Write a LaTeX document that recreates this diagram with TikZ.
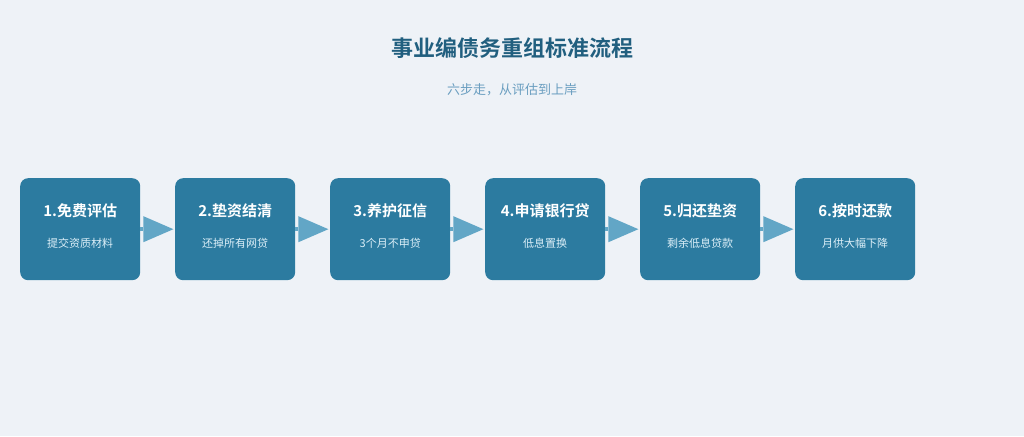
\documentclass[tikz,border=0pt]{standalone}
\usepackage{fontspec}
\setmainfont{Noto Sans CJK SC}
\newfontfamily\cjkbold{Noto Sans CJK SC Bold}
\usetikzlibrary{calc}
\definecolor{bg}{HTML}{EEF2F7}
\definecolor{boxc}{HTML}{2C7BA0}
\definecolor{arrc}{HTML}{62A6C6}
\definecolor{titlec}{HTML}{215F7F}
\definecolor{subc}{HTML}{6A9EC0}
\definecolor{stepsub}{HTML}{DCEFF8}
\tikzset{
  stepbox/.style={fill=boxc, rounded corners=8pt, minimum width=120pt, minimum height=102pt, inner sep=0pt, anchor=north west},
  steptitle/.style={text=white, font=\cjkbold\fontsize{15}{18}\selectfont, inner sep=0pt},
  stepsubt/.style={text=stepsub, font=\fontsize{11}{13}\selectfont, inner sep=0pt},
  conn/.style={draw=arrc, line width=3.5pt},
  tri/.style={fill=arrc}
}
\begin{document}
\begin{tikzpicture}[x=1pt,y=-1pt]
\fill[bg] (0,0) rectangle (1024,436);
\useasboundingbox (0,0) rectangle (1024,436);
\node[text=titlec, font=\cjkbold\fontsize{22}{26}\selectfont, inner sep=0pt] (title) at (512,48) {事业编债务重组标准流程};
\node[text=subc, font=\fontsize{13}{16}\selectfont, inner sep=0pt] (subtitle) at (512,90) {六步走，从评估到上岸};
\foreach \i/\t/\s in {1/1.免费评估/提交资质材料, 2/2.垫资结清/还掉所有网贷, 3/3.养护征信/3个月不申贷, 4/4.申请银行贷/低息置换, 5/5.归还垫资/剩余低息贷款, 6/6.按时还款/月供大幅下降}{
  \node[stepbox] (b\i) at ({20+155*(\i-1)},178) {};
  \node[steptitle] (t\i) at ($(b\i.north)+(0,33)$) {\t};
  \node[stepsubt] (s\i) at ($(b\i.north)+(0,65)$) {\s};
}
\foreach \i [evaluate=\i as \j using int(\i+1)] in {1,...,5}{
  \coordinate (a\i) at ($(b\i.east)+(3,0)$);
  \draw[conn] (b\i.east) -- (a\i);
  \fill[tri] ($(a\i)+(0,-13)$) -- ($(a\i)+(30,0)$) -- ($(a\i)+(0,13)$) -- cycle;
}
\end{tikzpicture}
\end{document}
